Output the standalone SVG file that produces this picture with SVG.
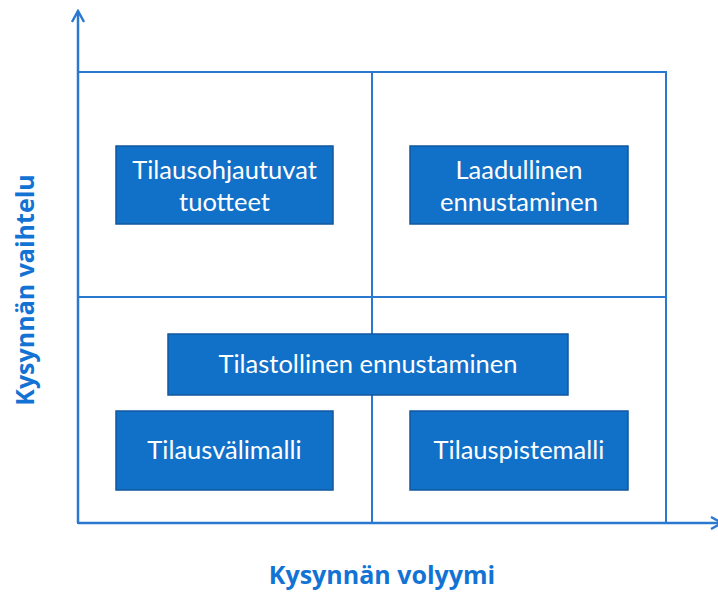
<svg xmlns="http://www.w3.org/2000/svg" width="718" height="592" viewBox="0 0 718 592">
<defs>
<style>
.grid{fill:none;stroke:#2A78D0;stroke-width:2}
.axis{fill:none;stroke:#2A78D0;stroke-width:2.5}
.box{fill:#1170C8;stroke:#11579E;stroke-width:1.5}
.lbl{font-family:Lato,"Open Sans",sans-serif;font-size:25.5px;fill:#fff;text-anchor:middle}
.ax{font-family:"Open Sans",Lato,sans-serif;font-size:25px;font-weight:bold;fill:#1273D4;text-anchor:middle}
</style>
<marker id="arr" viewBox="0 0 14 14" refX="12" refY="7" markerWidth="14" markerHeight="14" markerUnits="userSpaceOnUse" orient="auto">
<path d="M1,1 L12,7 L1,13" fill="none" stroke="#2A78D0" stroke-width="2.4"/>
</marker>
</defs>
<rect width="718" height="592" fill="#fff"/>
<g id="connectors">
<rect class="grid" x="78" y="72" width="588" height="451"/>
<line class="grid" x1="372" y1="72" x2="372" y2="523"/>
<line class="grid" x1="78" y1="297" x2="666" y2="297"/>
<line class="axis" x1="78" y1="523" x2="78" y2="11" marker-end="url(#arr)"/>
<line class="axis" x1="78" y1="523" x2="722" y2="523" marker-end="url(#arr)"/>
</g>
<g id="n1"><rect class="box" x="116" y="146" width="217" height="78"/><text class="lbl" x="224.5" y="179">Tilausohjautuvat</text><text class="lbl" x="224.5" y="211">tuotteet</text></g>
<g id="n2"><rect class="box" x="410" y="146" width="218" height="78"/><text class="lbl" x="519" y="179">Laadullinen</text><text class="lbl" x="519" y="211">ennustaminen</text></g>
<g id="n3"><rect class="box" x="168" y="334" width="400" height="61"/><text class="lbl" x="368" y="373">Tilastollinen ennustaminen</text></g>
<g id="n4"><rect class="box" x="116" y="411" width="217" height="79"/><text class="lbl" x="224.5" y="459">Tilausvälimalli</text></g>
<g id="n5"><rect class="box" x="410" y="411" width="218" height="79"/><text class="lbl" x="519" y="459">Tilauspistemalli</text></g>
<text class="ax" x="382" y="584">Kysynnän volyymi</text>
<text class="ax" transform="translate(34,290) rotate(-90)">Kysynnän vaihtelu</text>
</svg>
